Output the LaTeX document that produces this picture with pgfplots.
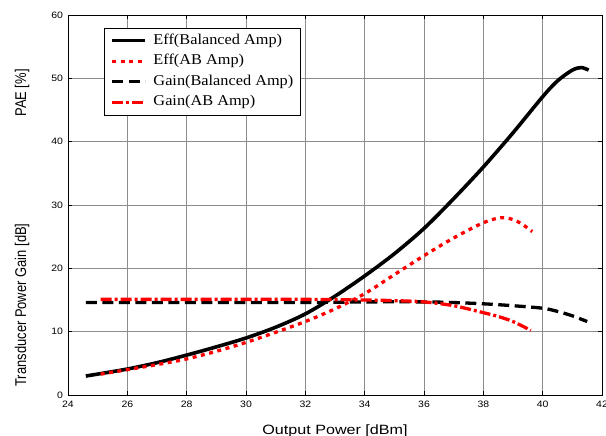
\documentclass[border=0pt]{standalone}
\usepackage{fontspec}
\setmainfont{Liberation Sans}
\newfontfamily\tickfont[FakeStretch=1.13]{Liberation Sans}
\newfontfamily\labfont[FakeStretch=1.2]{Liberation Sans}
\newfontfamily\legfont[FakeStretch=1.09]{Liberation Serif}
\usepackage{graphicx}
\usepackage{pgfplots}
\pgfplotsset{compat=1.18}
\begin{document}
\begin{tikzpicture}[x=1bp,y=1bp]
\useasboundingbox (-68bp,-41bp) rectangle (538bp,395bp);
\begin{axis}[
  at={(0,0)}, anchor=south west,
  scale only axis, width=534bp, height=380bp,
  xmin=24, xmax=42, ymin=0, ymax=60,
  xtick={24,26,...,42}, ytick={0,10,...,60},
  tick align=inside, major tick length=4bp,
  tick style={black, line width=0.6bp},
  grid=major, major grid style={black!45, line width=0.7bp},
  axis line style={line width=1bp},
  ticklabel style={font=\tickfont\fontsize{9.3}{10}\selectfont},
  /pgf/number format/assume math mode=true,
  xticklabel style={yshift=-2.5bp},
  yticklabel style={xshift=-1.5bp},
  legend cell align=left,
  legend image code/.code={\draw[#1] (0bp,0bp) -- (33bp,0bp); \path (38bp,0bp);},
  legend style={at={(rel axis cs:0.0674,0.967)}, anchor=north west,
    draw=black, line width=0.8bp, inner xsep=6bp, inner ysep=3.7bp,
    font=\legfont\fontsize{15}{16}\selectfont,
    nodes={inner sep=1.5bp, text height=11bp, text depth=4bp},
    row sep=2.6bp},
]
\addplot[black, line width=3.6bp, smooth, line join=round] coordinates {
(24.6,3.0) (25,3.3) (26,4.1) (27,5.1) (28,6.3) (29,7.6) (30,9.0) (31,10.7)
(32,12.8) (33,15.6) (34,18.8) (35,22.3) (36,26.3) (37,31.0) (38,36.0)
(39,41.4) (40,47.1) (40.5,49.6) (41,51.3) (41.3,51.7) (41.55,51.3)};
\addlegendentry{Eff(Balanced Amp)}
\addplot[red, line width=3.3bp, smooth, dash pattern=on 4bp off 4.5bp] coordinates {
(25.1,3.3) (26,4.0) (27,4.8) (28,5.7) (29,6.9) (30,8.3) (31,9.9) (32,11.6)
(33,13.6) (34,16.0) (35,19.0) (36,22.0) (37,24.8) (38,27.2) (38.6,28.0)
(39,27.7) (39.3,27.0) (39.65,25.8)};
\addlegendentry{Eff(AB Amp)}
\addplot[black, line width=3.3bp, smooth, dash pattern=on 11bp off 5.5bp] coordinates {
(24.6,14.6) (26,14.6) (28,14.6) (30,14.6) (32,14.6) (34,14.7) (36,14.7)
(37,14.6) (38,14.4) (39,14.1) (40,13.7) (40.5,13.2) (41,12.5) (41.5,11.6)};
\addlegendentry{Gain(Balanced Amp)}
\addplot[red, line width=3.3bp, smooth, dash pattern=on 11bp off 3bp on 3bp off 3bp] coordinates {
(25.1,15.1) (26,15.1) (28,15.1) (30,15.1) (32,15.1) (34,15.0) (35,14.9)
(36,14.7) (37,14.1) (38,13.0) (38.5,12.4) (39,11.6) (39.6,10.2)};
\addlegendentry{Gain(AB Amp)}
\end{axis}
\node[anchor=base, inner sep=0pt] at (267bp,-39bp)
  {\labfont\fontsize{13.5}{14}\selectfont Output Power [dBm]};
\node[inner sep=0pt] at (-46bp,302bp)
  {\scalebox{1.2}[1]{\rotatebox{90}{\fontsize{13}{14}\selectfont PAE [\%]}}};
\node[inner sep=0pt] at (-46bp,90bp)
  {\scalebox{1.2}[1]{\rotatebox{90}{\fontsize{13}{14}\selectfont Transducer Power Gain [dB]}}};
\end{tikzpicture}
\end{document}
